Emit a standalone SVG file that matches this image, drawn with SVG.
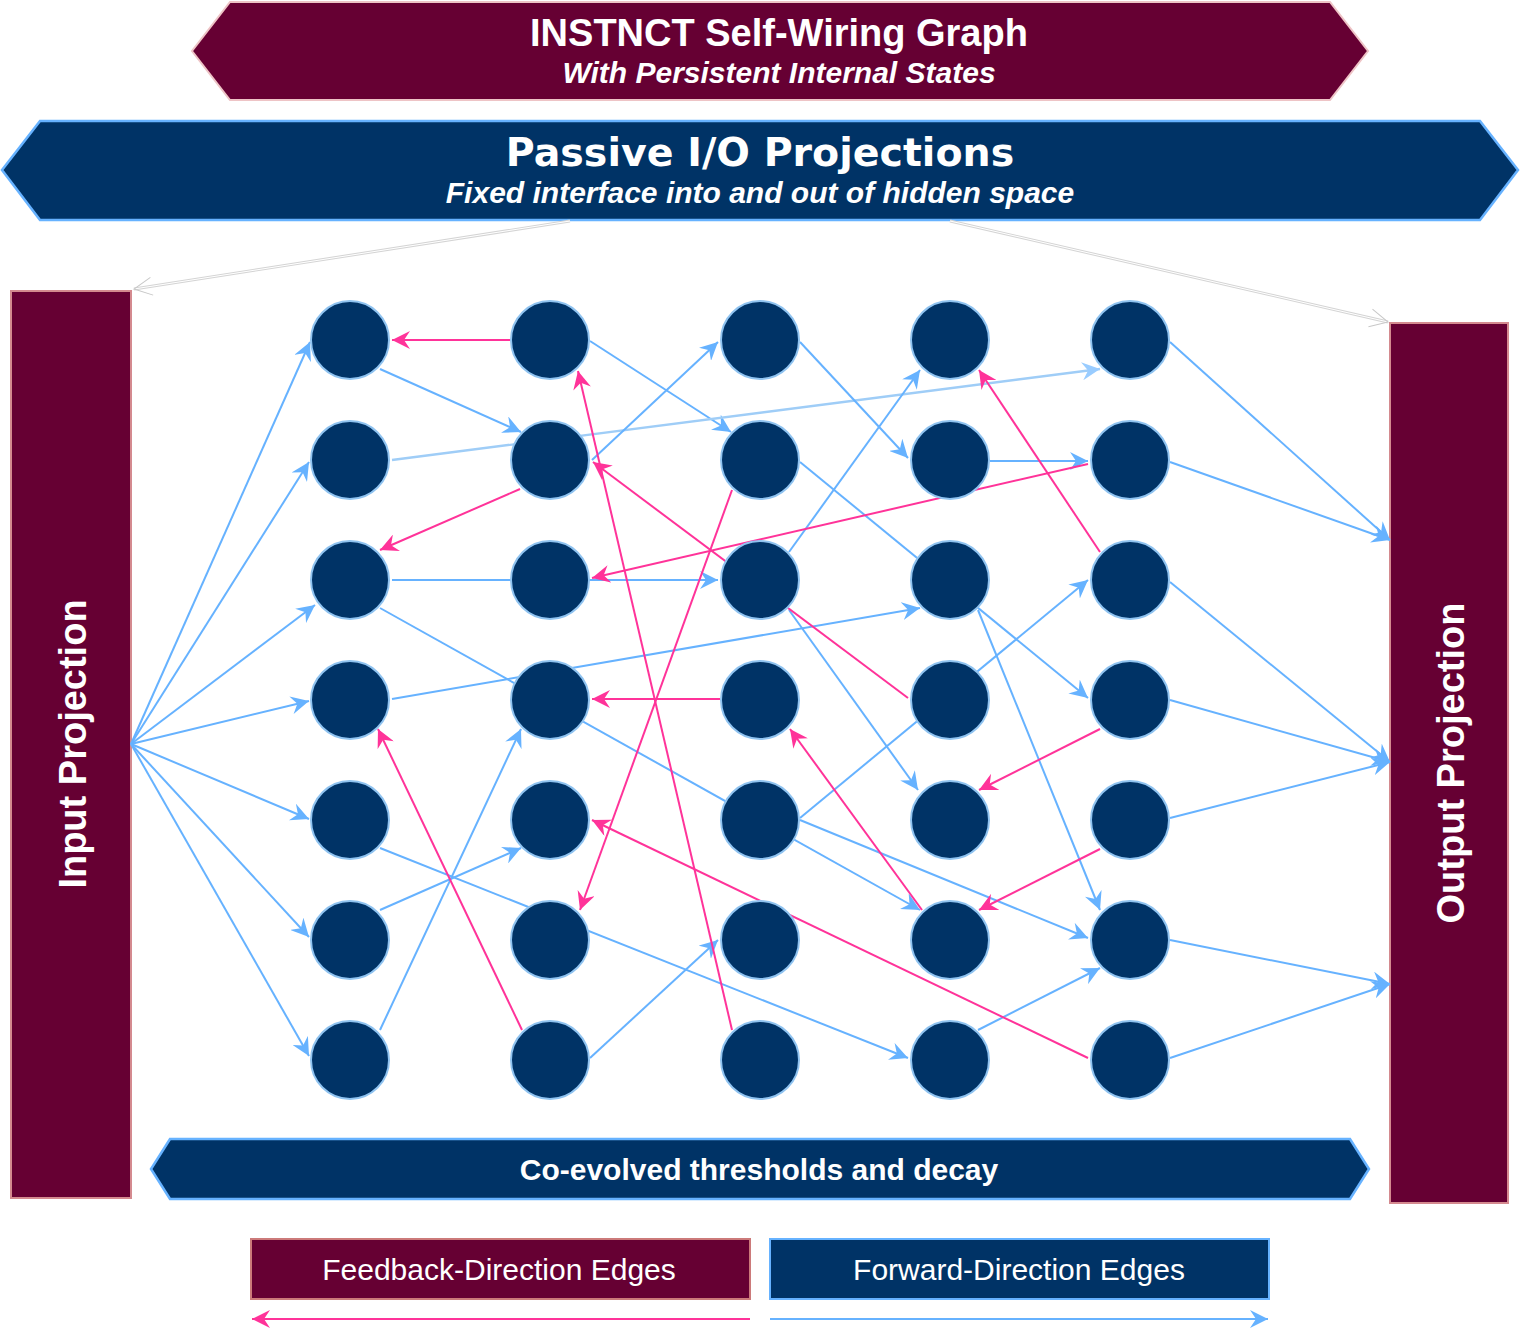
<svg xmlns="http://www.w3.org/2000/svg" width="1520" height="1336" viewBox="0 0 1520 1336">
<style>
.maroon{fill:#660033;stroke:#d48a8f;stroke-width:2}
.navy{fill:#003366;stroke:#66b2ff;stroke-width:2.5}
.node{fill:#003366;stroke:#8fc3f0;stroke-width:2}
.f{stroke:#66b2ff;stroke-width:2;fill:none;marker-end:url(#mb)}
.fl{stroke:#9fcdf7;stroke-width:2.4;fill:none;marker-end:url(#ml)}
.b{stroke:#ff3399;stroke-width:2;fill:none;marker-end:url(#mp)}
.io1{stroke:#d4d4d4;stroke-width:3;fill:none}
.io2{stroke:#ffffff;stroke-width:1;fill:none}
.t{fill:#ffffff;font-family:"Liberation Sans",Arial,sans-serif;text-anchor:middle}
.bd{font-weight:bold}
.it{font-style:italic;font-weight:bold}
</style>
<defs>
<marker id="mb" viewBox="0 0 18 18" refX="18" refY="9" markerWidth="18" markerHeight="18" markerUnits="userSpaceOnUse" orient="auto"><path d="M18,9 L0,0 L6,9 L0,18 Z" fill="#66b2ff"/></marker>
<marker id="ml" viewBox="0 0 18 18" refX="18" refY="9" markerWidth="18" markerHeight="18" markerUnits="userSpaceOnUse" orient="auto"><path d="M18,9 L0,0 L6,9 L0,18 Z" fill="#99ccff"/></marker>
<marker id="mp" viewBox="0 0 18 18" refX="18" refY="9" markerWidth="18" markerHeight="18" markerUnits="userSpaceOnUse" orient="auto"><path d="M18,9 L0,0 L6,9 L0,18 Z" fill="#ff3399"/></marker>
<marker id="mo" viewBox="0 0 20 20" refX="19" refY="10" markerWidth="20" markerHeight="20" markerUnits="userSpaceOnUse" orient="auto"><path d="M1,1 L19,10 L1,19" fill="none" stroke="#c8c8c8" stroke-width="1"/></marker>
</defs>

<g id="title">
<polygon class="maroon" points="230,2 1330,2 1368,51 1330,100 230,100 192,51" style="stroke:#eec4c6"/>
<text class="t bd" x="779" y="46" font-size="38">INSTNCT Self-Wiring Graph</text>
<text class="t it" x="779" y="83" font-size="30">With Persistent Internal States</text>
</g>

<g id="passive-io">
<polygon class="navy" points="40,121 1480,121 1518,170 1480,220 40,220 2,170"/>
<text class="t bd" x="760" y="166" font-size="39.5" style="font-family:Verdana,'DejaVu Sans',sans-serif">Passive I/O Projections</text>
<text class="t it" x="760" y="203" font-size="30">Fixed interface into and out of hidden space</text>
</g>

<g id="input-projection">
<rect class="maroon" x="11" y="291" width="120" height="907"/>
<text class="t bd" font-size="38" transform="translate(86,744) rotate(-90)">Input Projection</text>
</g>

<g id="output-projection">
<rect class="maroon" x="1390" y="323" width="118" height="880"/>
<text class="t bd" font-size="38" transform="translate(1464,763) rotate(-90)">Output Projection</text>
</g>

<g id="thresholds">
<polygon class="navy" points="170,1139 1350,1139 1369,1169 1350,1199 170,1199 151,1169"/>
<text class="t bd" x="759" y="1180" font-size="30">Co-evolved thresholds and decay</text>
</g>

<g id="connectors">
<!-- passive io -->
<path class="io1" d="M570,221 L134,289"/>
<path class="io2" d="M570,221 L134,289" style="marker-end:url(#mo)"/>
<path class="io1" d="M950,221 L1388,322"/>
<path class="io2" d="M950,221 L1388,322" style="marker-end:url(#mo)"/>
<!-- input fan -->
<line class="f" x1="131" y1="744" x2="310" y2="342"/>
<line class="f" x1="131" y1="744" x2="309" y2="462"/>
<line class="f" x1="131" y1="744" x2="315" y2="605"/>
<line class="f" x1="131" y1="744" x2="309" y2="701"/>
<line class="f" x1="131" y1="744" x2="309" y2="819"/>
<line class="f" x1="131" y1="744" x2="309" y2="937"/>
<line class="f" x1="131" y1="744" x2="309" y2="1056"/>
<!-- forward edges -->
<line class="f" x1="380" y1="369" x2="521" y2="432"/>
<line class="f" x1="590" y1="341" x2="731" y2="432"/>
<line class="fl" x1="392" y1="460" x2="1100" y2="369"/>
<line class="f" x1="592" y1="460" x2="718" y2="342"/>
<line class="f" x1="392" y1="580" x2="718" y2="580"/>
<line class="f" x1="380" y1="608" x2="920" y2="910"/>
<line class="f" x1="392" y1="699" x2="920" y2="608"/>
<line class="f" x1="800" y1="342" x2="908" y2="458"/>
<line class="f" x1="789" y1="552" x2="920" y2="370"/>
<line class="f" x1="990" y1="461" x2="1088" y2="461"/>
<line class="f" x1="800" y1="462" x2="1088" y2="698"/>
<line class="f" x1="978" y1="610" x2="1100" y2="910"/>
<line class="f" x1="789" y1="610" x2="918" y2="790"/>
<line class="f" x1="800" y1="818" x2="1088" y2="580"/>
<line class="f" x1="380" y1="1030" x2="521" y2="729"/>
<line class="f" x1="380" y1="910" x2="521" y2="848"/>
<line class="f" x1="380" y1="848" x2="908" y2="1058"/>
<line class="f" x1="590" y1="1058" x2="718" y2="940"/>
<line class="f" x1="800" y1="820" x2="1088" y2="938"/>
<line class="f" x1="978" y1="1030" x2="1100" y2="968"/>
<!-- output fan -->
<line class="f" x1="1170" y1="342" x2="1390" y2="540"/>
<line class="f" x1="1170" y1="462" x2="1390" y2="540"/>
<line class="f" x1="1170" y1="582" x2="1390" y2="762"/>
<line class="f" x1="1170" y1="700" x2="1390" y2="762"/>
<line class="f" x1="1170" y1="818" x2="1390" y2="762"/>
<line class="f" x1="1170" y1="940" x2="1390" y2="984"/>
<line class="f" x1="1170" y1="1058" x2="1390" y2="984"/>
<!-- feedback edges -->
<line class="b" x1="510" y1="340" x2="392" y2="340"/>
<line class="b" x1="732" y1="1030" x2="578" y2="371"/>
<line class="b" x1="520" y1="489" x2="380" y2="550"/>
<line class="b" x1="908" y1="698" x2="593" y2="462"/>
<line class="b" x1="1088" y1="464" x2="592" y2="578"/>
<line class="b" x1="732" y1="490" x2="580" y2="910"/>
<line class="b" x1="720" y1="699" x2="592" y2="699"/>
<line class="b" x1="1100" y1="552" x2="979" y2="370"/>
<line class="b" x1="522" y1="1030" x2="378" y2="729"/>
<line class="b" x1="1088" y1="1058" x2="592" y2="820"/>
<line class="b" x1="1100" y1="729" x2="979" y2="790"/>
<line class="b" x1="1100" y1="849" x2="979" y2="910"/>
<line class="b" x1="922" y1="910" x2="790" y2="729"/>
</g>

<g id="nodes">
<g id="n-1-1"><circle class="node" cx="350" cy="340" r="39"/></g>
<g id="n-1-2"><circle class="node" cx="350" cy="460" r="39"/></g>
<g id="n-1-3"><circle class="node" cx="350" cy="580" r="39"/></g>
<g id="n-1-4"><circle class="node" cx="350" cy="700" r="39"/></g>
<g id="n-1-5"><circle class="node" cx="350" cy="820" r="39"/></g>
<g id="n-1-6"><circle class="node" cx="350" cy="940" r="39"/></g>
<g id="n-1-7"><circle class="node" cx="350" cy="1060" r="39"/></g>
<g id="n-2-1"><circle class="node" cx="550" cy="340" r="39"/></g>
<g id="n-2-2"><circle class="node" cx="550" cy="460" r="39"/></g>
<g id="n-2-3"><circle class="node" cx="550" cy="580" r="39"/></g>
<g id="n-2-4"><circle class="node" cx="550" cy="700" r="39"/></g>
<g id="n-2-5"><circle class="node" cx="550" cy="820" r="39"/></g>
<g id="n-2-6"><circle class="node" cx="550" cy="940" r="39"/></g>
<g id="n-2-7"><circle class="node" cx="550" cy="1060" r="39"/></g>
<g id="n-3-1"><circle class="node" cx="760" cy="340" r="39"/></g>
<g id="n-3-2"><circle class="node" cx="760" cy="460" r="39"/></g>
<g id="n-3-3"><circle class="node" cx="760" cy="580" r="39"/></g>
<g id="n-3-4"><circle class="node" cx="760" cy="700" r="39"/></g>
<g id="n-3-5"><circle class="node" cx="760" cy="820" r="39"/></g>
<g id="n-3-6"><circle class="node" cx="760" cy="940" r="39"/></g>
<g id="n-3-7"><circle class="node" cx="760" cy="1060" r="39"/></g>
<g id="n-4-1"><circle class="node" cx="950" cy="340" r="39"/></g>
<g id="n-4-2"><circle class="node" cx="950" cy="460" r="39"/></g>
<g id="n-4-3"><circle class="node" cx="950" cy="580" r="39"/></g>
<g id="n-4-4"><circle class="node" cx="950" cy="700" r="39"/></g>
<g id="n-4-5"><circle class="node" cx="950" cy="820" r="39"/></g>
<g id="n-4-6"><circle class="node" cx="950" cy="940" r="39"/></g>
<g id="n-4-7"><circle class="node" cx="950" cy="1060" r="39"/></g>
<g id="n-5-1"><circle class="node" cx="1130" cy="340" r="39"/></g>
<g id="n-5-2"><circle class="node" cx="1130" cy="460" r="39"/></g>
<g id="n-5-3"><circle class="node" cx="1130" cy="580" r="39"/></g>
<g id="n-5-4"><circle class="node" cx="1130" cy="700" r="39"/></g>
<g id="n-5-5"><circle class="node" cx="1130" cy="820" r="39"/></g>
<g id="n-5-6"><circle class="node" cx="1130" cy="940" r="39"/></g>
<g id="n-5-7"><circle class="node" cx="1130" cy="1060" r="39"/></g>
</g>

<g id="legend-feedback">
<rect class="maroon" x="251" y="1239" width="499" height="60" style="stroke:#cc7a7a"/>
<text class="t" x="499" y="1280" font-size="30">Feedback-Direction Edges</text>
<line class="b" x1="750" y1="1319" x2="252" y2="1319"/>
</g>
<g id="legend-forward">
<rect class="navy" x="770" y="1239" width="499" height="60" style="stroke-width:2"/>
<text class="t" x="1019" y="1280" font-size="30">Forward-Direction Edges</text>
<line class="f" x1="770" y1="1319" x2="1268" y2="1319"/>
</g>
</svg>
